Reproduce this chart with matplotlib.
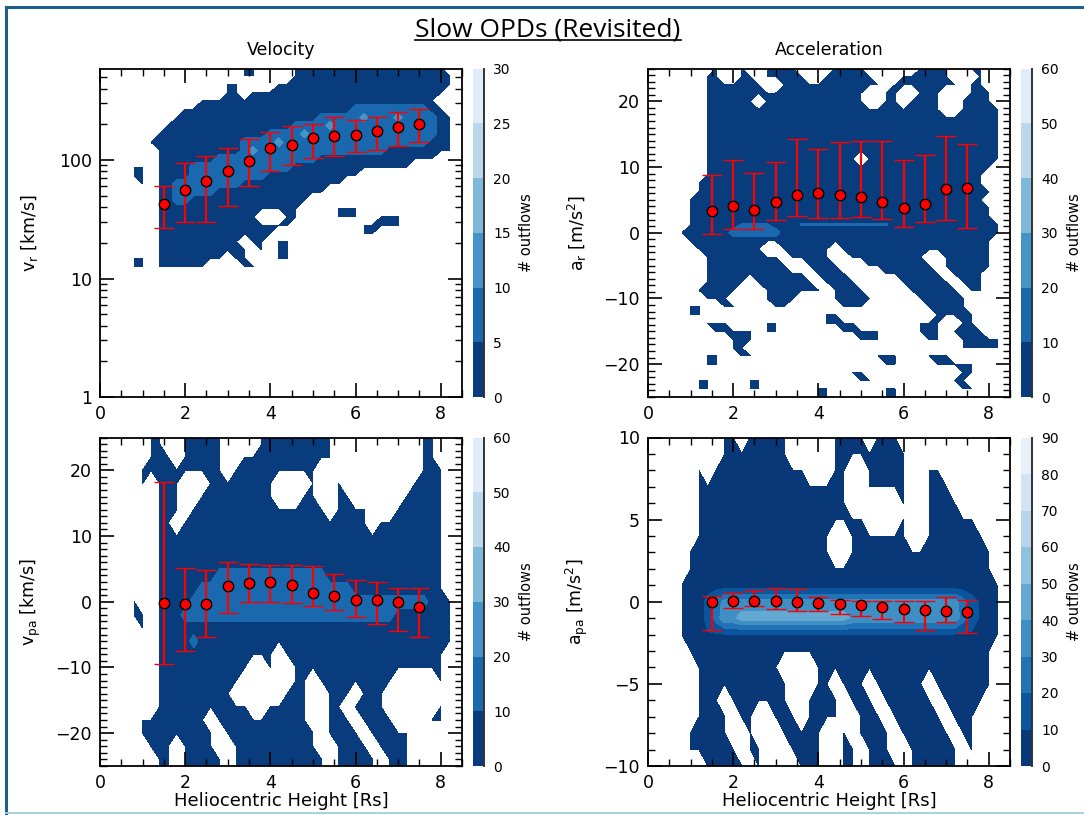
import numpy as np
import matplotlib
matplotlib.use("Agg")
import matplotlib.pyplot as plt
from matplotlib.lines import Line2D
from matplotlib.ticker import MultipleLocator, LogLocator, FuncFormatter, NullFormatter

# ---------------------------------------------------------------------------
# Values
# ---------------------------------------------------------------------------
height_bins = np.round(np.arange(0.8, 8.21, 0.2), 2)      # x nodes of the count maps
bin_height = [1.5, 2.0, 2.5, 3.0, 3.5, 4.0, 4.5, 5.0, 5.5, 6.0, 6.5, 7.0, 7.5]

vr_med = [42.5, 56.1, 66.0, 80.7, 98.1, 126.3, 133.8, 152.4, 160.6, 162.6, 177.0, 190.2, 200.1]
vr_hi = [59.8, 94.3, 108.8, 126.3, 151.5, 172.5, 192.7, 202.9, 229.4, 216.4, 230.8, 252.9, 271.6]
vr_lo = [26.6, 29.7, 29.7, 40.6, 59.8, 80.2, 90.1, 104.0, 108.8, 116.9, 122.3, 130.4, 141.8]

ar_med = [3.37, 4.08, 3.47, 4.69, 5.77, 6.02, 5.77, 5.41, 4.69, 3.78, 4.34, 6.73, 6.79]
ar_hi = [8.72, 11.1, 9.03, 10.8, 14.2, 12.8, 13.8, 14.0, 13.9, 11.1, 11.8, 14.7, 13.5]
ar_lo = [-0.15, 0.56, 0.61, 1.94, 2.55, 2.19, 2.19, 2.40, 2.09, 0.87, 1.68, 1.99, 0.71]

vpa_med = [-0.15, -0.4, -0.3, 2.44, 2.9, 2.94, 2.49, 1.37, 0.91, 0.25, 0.25, 0.0, -0.86]
vpa_hi = [18.2, 5.1, 4.8, 6.0, 5.8, 5.6, 5.6, 5.4, 4.2, 3.3, 2.94, 2.03, 2.03]
vpa_lo = [-9.4, -7.5, -5.4, -1.78, -0.1, -0.05, -0.25, -0.66, -1.27, -2.28, -3.4, -4.4, -5.3]

apa_med = [-0.04, 0.04, 0.04, 0.04, 0.0, -0.08, -0.16, -0.22, -0.34, -0.44, -0.50, -0.54, -0.65]
apa_hi = [0.34, 0.54, 0.71, 0.85, 0.77, 0.30, 0.10, 0.04, 0.04, 0.04, 0.04, 0.26, 0.10]
apa_lo = [-1.71, -0.40, -0.26, -0.42, -0.54, -0.54, -0.75, -0.89, -1.05, -1.21, -1.75, -1.25, -1.92]

# count maps: one row per y node (top to bottom), run-length coded "n*c",
# '.' = no outflows, other characters = count
vr_nodes = 10 ** np.round(np.arange(2.78, 1.09, -0.07), 2)
vr_rows = [
    "13*. 2*1 4*. 18*1 1*.",
    "13*. 2*1 4*. 19*1",
    "7*. 2*1 2*. 2*1 4*. 21*1",
    "11*. 2*1 1*. 23*1 1*.",
    "4*. 2*1 2*. 28*1 2*.",
    "6*. 20*1 9*2 2*1 1*.",
    "5*. 17*1 5*2 1*3 3*2 1*3 4*2 2*1",
    "4*. 15*1 4*2 1*3 12*2 2*1",
    "1*. 1*1 1*. 13*1 4*2 1*3 15*2 2*1",
    "2*. 11*1 4*2 1*3 17*2 3*1",
    "3*. 10*1 1*2 1*3 15*2 8*1",
    "3*. 7*1 12*2 14*1 2*.",
    "2*1 1*. 4*1 12*2 14*1 5*.",
    "2*1 1*. 4*1 9*2 11*1 11*.",
    "1*. 1*1 1*. 2*1 8*2 12*1 13*.",
    "3*. 2*1 5*2 13*1 15*.",
    "3*. 2*1 2*2 14*1 17*.",
    "3*. 17*1 4*. 3*1 11*.",
    "3*. 12*1 3*. 2*1 4*. 3*1 2*. 3*1 6*.",
    "3*. 16*1 8*. 5*1 6*.",
    "3*. 14*1 10*. 2*1 9*.",
    "3*. 10*1 1*. 2*1 1*. 2*1 19*.",
    "3*. 11*1 1*. 1*1 1*. 2*1 19*.",
    "2*1 1*. 8*1 1*. 2*1 3*. 2*1 19*.",
    "2*1 1*. 6*1 4*. 2*1 23*.",
]
vr_band = {"1": 2.5, "2": 7.5, "3": 12.5}

ar_nodes = np.linspace(25, -25, 41)
ar_rows = [
    "4*. 1*1 2*. 1*1 2*. 4*1 4*. 4*1 6*. 4*1 2*. 2*1 2*.",
    "3*. 2*1 2*. 2*1 1*. 5*1 2*. 6*1 3*. 6*1 3*. 1*1 2*.",
    "3*. 7*1 2*. 12*1 1*. 8*1 1*. 2*1 2*.",
    "3*. 19*1 2*. 2*1 2*. 3*1 3*. 3*1 1*.",
    "3*. 6*1 1*. 12*1 2*. 2*1 1*. 4*1 2*. 4*1 1*.",
    "3*. 28*1 2*. 5*1",
    "3*. 35*1",
    "3*. 35*1",
    "3*. 35*1",
    "3*. 35*1",
    "3*. 35*1",
    "3*. 18*1 1*. 16*1",
    "3*. 34*1 1*.",
    "3*. 33*1 2*.",
    "2*. 34*1 2*.",
    "2*. 35*1 1*.",
    "1*. 35*1 2*.",
    "1*. 36*1 1*.",
    "1*. 36*1 1*.",
    "1*. 6*1 4*2 3*1 11*2 13*1",
    "6*1 6*3 26*1",
    "1*. 36*1 1*.",
    "2*. 8*1 2*. 6*1 1*. 18*1 1*.",
    "3*. 9*1 1*. 5*1 2*. 9*1 2*. 6*1 1*.",
    "3*. 10*1 2*. 4*1 3*. 8*1 1*. 6*1 1*.",
    "3*. 12*1 1*. 4*1 4*. 7*1 1*. 4*1 2*.",
    "3*. 5*1 1*. 7*1 1*. 4*1 5*. 6*1 1*. 3*1 2*.",
    "2*. 5*1 3*. 7*1 1*. 4*1 5*. 6*1 1*. 2*1 2*.",
    "3*. 3*1 4*. 4*1 4*. 5*1 5*. 6*1 4*.",
    "1*. 2*1 2*. 2*1 4*. 2*1 6*. 3*1 7*. 5*1 1*. 2*1 1*.",
    "1*. 2*1 14*. 2*1 11*. 5*1 3*.",
    "3*. 3*1 4*. 2*1 5*. 4*1 7*. 3*1 2*. 2*1 3*.",
    "4*. 5*1 1*. 2*1 7*. 5*1 4*. 3*1 1*. 4*1 2*.",
    "6*. 3*1 12*. 3*1 5*. 2*1 2*. 5*1",
    "6*. 2*1 25*. 5*1",
    "3*. 2*1 2*. 2*1 14*. 3*1 3*. 3*1 6*.",
    "3*. 2*1 19*. 2*1 4*. 5*1 3*.",
    "20*. 2*1 11*. 2*1 3*.",
    "2*. 2*1 4*. 2*1 11*. 2*1 9*. 2*1 4*.",
    "2*. 2*1 4*. 2*1 6*. 2*1 6*. 2*1 7*. 2*1 3*.",
    "16*. 2*1 6*. 2*1 12*.",
]
ar_band = {"1": 4, "2": 11, "3": 16}

vpa_nodes = np.arange(26, -27, -2)
vpa_rows = [
    "2*. 2*1 2*. 5*1 4*. 9*1 10*. 2*1 2*.",
    "2*. 2*1 2*. 5*1 4*. 9*1 10*. 2*1 2*.",
    "2*. 3*1 1*. 5*1 2*. 11*1 10*. 2*1 2*.",
    "1*. 10*1 1*. 10*1 12*. 3*1 1*.",
    "1*. 1*1 1*. 3*1 3*. 8*1 4*. 1*1 2*. 1*1 8*. 4*1 1*.",
    "3*. 3*1 2*. 9*1 3*. 2*1 2*. 2*1 6*. 5*1 1*.",
    "3*. 3*1 1*. 16*1 1*. 4*1 3*. 6*1 1*.",
    "3*. 2*1 1*. 22*1 1*. 8*1 1*.",
    "3*. 34*1 1*.",
    "3*. 34*1 1*.",
    "3*. 34*1 1*.",
    "3*. 7*1 13*2 14*1 1*.",
    "3*. 5*1 18*2 11*1 1*.",
    "1*1 2*. 4*1 28*2 3*1",
    "2*1 1*. 3*1 25*2 7*1",
    "1*. 1*1 1*. 35*1",
    "3*. 4*1 1*2 30*1",
    "3*. 14*1 1*. 19*1 1*.",
    "3*. 11*1 2*. 1*1 2*. 18*1 1*.",
    "3*. 10*1 2*. 1*1 3*. 2*1 1*. 9*1 5*. 1*1 1*.",
    "3*. 9*1 2*. 1*1 3*. 3*1 2*. 3*1 1*. 3*1 6*. 1*1 1*.",
    "3*. 11*1 2*. 5*1 2*. 2*1 1*. 4*1 6*. 1*1 1*.",
    "1*. 8*1 1*. 11*1 2*. 3*1 1*. 4*1 3*. 3*1 1*.",
    "1*. 9*1 1*. 11*1 1*. 4*1 1*. 5*1 5*.",
    "2*. 3*1 1*. 4*1 2*. 10*1 2*. 4*1 1*. 4*1 5*.",
    "3*. 2*1 1*. 5*1 1*. 11*1 1*. 5*1 1*. 3*1 5*.",
    "3*. 2*1 1*. 5*1 1*. 11*1 1*. 5*1 1*. 3*1 5*.",
]
vpa_band = {"1": 5, "2": 15}

apa_nodes = np.arange(11, -12, -1)
apa_rows = [
    "5*. 2*1 1*. 5*1 5*. 4*1 1*. 3*1 12*.",
    "5*. 2*1 1*. 5*1 5*. 4*1 1*. 3*1 12*.",
    "5*. 8*1 5*. 9*1 11*.",
    "2*. 1*1 1*. 11*1 3*. 2*1 2*. 5*1 2*. 2*1 7*.",
    "2*. 18*1 2*. 5*1 2*. 3*1 6*.",
    "2*. 18*1 6*. 1*1 2*. 4*1 5*.",
    "2*. 20*1 4*. 1*1 2*. 6*1 3*.",
    "2*. 16*1 2*. 7*1 2*. 7*1 2*.",
    "1*. 17*1 2*. 17*1 1*.",
    "1*. 36*1 1*.",
    "38*1",
    "3*1 1*6 1*3 28*4 1*3 1*6 1*2 2*1",
    "3*1 1*6 1*3 2*7 13*5 13*7 1*3 1*6 1*2 2*1",
    "3*1 33*2 2*1",
    "1*. 36*1 1*.",
    "2*. 10*1 4*. 21*1 1*.",
    "2*. 11*1 3*. 2*1 1*. 3*1 1*. 6*1 1*. 7*1 1*.",
    "2*. 3*1 1*. 7*1 2*. 4*1 1*. 3*1 1*. 6*1 1*. 5*1 2*.",
    "1*1 1*. 4*1 1*. 2*1 2*. 3*1 1*. 4*1 2*. 3*1 1*. 6*1 1*. 3*1 3*.",
    "1*. 1*1 4*1 2*. 1*1 3*. 5*1 2*. 1*1 1*. 4*1 1*. 6*1 1*. 2*1 3*.",
    "1*. 1*1 5*1 1*. 2*1 3*. 4*1 2*. 2*1 1*. 3*1 2*. 6*1 1*. 1*1 3*.",
    "3*. 5*1 1*. 1*1 4*. 3*1 2*. 2*1 1*. 4*1 1*. 6*1 5*.",
    "3*. 5*1 1*. 1*1 4*. 3*1 2*. 2*1 1*. 4*1 1*. 6*1 5*.",
]
apa_band = {"1": 4, "2": 9, "6": 14, "3": 24, "4": 34, "7": 38, "5": 44}


def decode(rows, band, ncols):
    grid = []
    for k, row in enumerate(rows):
        line = "".join(c * int(n) for n, c in (tok.split("*") for tok in row.split()))
        if len(line) != ncols:
            raise ValueError(f"row {k} has {len(line)} cells: {row}")
        grid.append([band.get(c, np.nan) for c in line])
    return np.ma.masked_invalid(np.array(grid, dtype=float))


def style_axes(ax):
    ax.set_xlim(0, 8.5)
    ax.xaxis.set_major_locator(MultipleLocator(2))
    ax.xaxis.set_minor_locator(MultipleLocator(0.5))
    ax.tick_params(which="both", direction="in", top=True, right=True, colors="black")
    ax.tick_params(which="major", length=10, width=1.2, labelsize=12.5, pad=6)
    ax.tick_params(which="minor", length=5, width=1.0)
    for sp in ax.spines.values():
        sp.set_linewidth(1.3)


def draw_panel(ax, cax, nodes, rows, band, levels, med, lo, hi):
    z = decode(rows, band, len(height_bins))
    if z.shape[0] != len(nodes):
        raise ValueError(f"{z.shape[0]} rows for {len(nodes)} nodes")
    nband = len(levels) - 1
    colors = [plt.cm.Blues_r((i + 0.3) / nband) for i in range(nband)]
    cs = ax.contourf(height_bins, nodes[::-1], z[::-1], levels=levels, colors=colors)
    med = np.array(med)
    yerr = [med - np.array(lo), np.array(hi) - med]
    ax.errorbar(bin_height, med, yerr=yerr, fmt="o", color="red", ecolor="red",
                elinewidth=1.6, capsize=7.5, capthick=1.6, ms=7.5, mfc="red",
                mec="black", mew=1.0, zorder=5)
    cb = fig.colorbar(cs, cax=cax, ticks=levels)
    cb.outline.set_visible(False)
    cax.tick_params(length=0, labelsize=10, pad=7)
    cax.plot([1, 1], [0, 1], transform=cax.transAxes, color="#333333", lw=1.4, clip_on=False)
    cb.set_label("# outflows", fontsize=10.5, labelpad=6)
    style_axes(ax)
    return cb


fig = plt.figure(figsize=(10.84, 8.15), dpi=100)

W, H = 1084.0, 815.0
col_x = [100 / W, 648 / W]
row_y = [1 - 397 / H, 1 - 766 / H]
ax_w, ax_h = 362 / W, 328.5 / H
cb_x = [472.5 / W, 1020.5 / W]
cb_w = 11 / W

ax_vr = fig.add_axes([col_x[0], row_y[0], ax_w, ax_h])
ax_ar = fig.add_axes([col_x[1], row_y[0], ax_w, ax_h])
ax_vpa = fig.add_axes([col_x[0], row_y[1], ax_w, ax_h])
ax_apa = fig.add_axes([col_x[1], row_y[1], ax_w, ax_h])
cax_vr = fig.add_axes([cb_x[0], row_y[0], cb_w, ax_h])
cax_ar = fig.add_axes([cb_x[1], row_y[0], cb_w, ax_h])
cax_vpa = fig.add_axes([cb_x[0], row_y[1], cb_w, ax_h])
cax_apa = fig.add_axes([cb_x[1], row_y[1], cb_w, ax_h])

# radial velocity (log)
ax_vr.set_yscale("log")
draw_panel(ax_vr, cax_vr, vr_nodes, vr_rows, vr_band, np.arange(0, 31, 5), vr_med, vr_lo, vr_hi)
ax_vr.set_ylim(1, 592)
ax_vr.yaxis.set_major_locator(LogLocator(base=10, numticks=10))
ax_vr.yaxis.set_minor_locator(LogLocator(base=10, subs=np.arange(2, 10), numticks=30))
ax_vr.yaxis.set_major_formatter(FuncFormatter(lambda v, p: f"{v:g}"))
ax_vr.yaxis.set_minor_formatter(NullFormatter())
ax_vr.set_title("Velocity", fontsize=12.5, pad=10)
ax_vr.set_ylabel(r"v$_{\mathrm{r}}$ [km/s]", fontsize=12.5)
ax_vr.yaxis.set_label_coords(-0.165, 0.5)

# radial acceleration
draw_panel(ax_ar, cax_ar, ar_nodes, ar_rows, ar_band, np.arange(0, 61, 10), ar_med, ar_lo, ar_hi)
ax_ar.set_ylim(-25, 25)
ax_ar.yaxis.set_major_locator(MultipleLocator(10))
ax_ar.yaxis.set_minor_locator(MultipleLocator(1))
ax_ar.set_title("Acceleration", fontsize=12.5, pad=10)
ax_ar.set_ylabel(r"a$_{\mathrm{r}}$ [m/s$^2$]", fontsize=12.5)
ax_ar.yaxis.set_label_coords(-0.163, 0.5)

# position-angle velocity
draw_panel(ax_vpa, cax_vpa, vpa_nodes, vpa_rows, vpa_band, np.arange(0, 61, 10), vpa_med, vpa_lo, vpa_hi)
ax_vpa.set_ylim(-25, 25)
ax_vpa.yaxis.set_major_locator(MultipleLocator(10))
ax_vpa.yaxis.set_minor_locator(MultipleLocator(1))
ax_vpa.set_ylabel(r"v$_{\mathrm{pa}}$ [km/s]", fontsize=12.5)
ax_vpa.yaxis.set_label_coords(-0.157, 0.5)
ax_vpa.set_xlabel("Heliocentric Height [Rs]", fontsize=13, labelpad=0)

# position-angle acceleration
draw_panel(ax_apa, cax_apa, apa_nodes, apa_rows, apa_band, np.arange(0, 91, 10), apa_med, apa_lo, apa_hi)
ax_apa.set_ylim(-10, 10)
ax_apa.yaxis.set_major_locator(MultipleLocator(5))
ax_apa.yaxis.set_minor_locator(MultipleLocator(1))
ax_apa.set_ylabel(r"a$_{\mathrm{pa}}$ [m/s$^2$]", fontsize=12.5)
ax_apa.yaxis.set_label_coords(-0.16, 0.5)
ax_apa.set_xlabel("Heliocentric Height [Rs]", fontsize=13, labelpad=0)

# underlined title
title = fig.text(548 / W, 1 - 36.5 / H, "Slow OPDs (Revisited)", ha="center", va="baseline",
                 fontsize=19, family=["Open Sans", "DejaVu Sans"])
fig.canvas.draw()
bb = title.get_window_extent().transformed(fig.transFigure.inverted())
fig.add_artist(Line2D([bb.x0, bb.x1], [1 - 40 / H] * 2, transform=fig.transFigure,
                      color="black", lw=1.2))

# slide frame
frame_dark = "#1d5f87"
fig.add_artist(Line2D([6 / W, 1], [1 - 6.8 / H] * 2, transform=fig.transFigure, color=frame_dark, lw=2.2))
fig.add_artist(Line2D([6.3 / W] * 2, [1 - 6.8 / H, 1 - 812.5 / H], transform=fig.transFigure,
                      color=frame_dark, lw=2.2))
fig.add_artist(Line2D([6 / W, 1], [1 - 812.5 / H] * 2, transform=fig.transFigure, color="#a3cdd8", lw=1.3))

fig.savefig("out.png", dpi=100, facecolor="white")
plt.close(fig)
